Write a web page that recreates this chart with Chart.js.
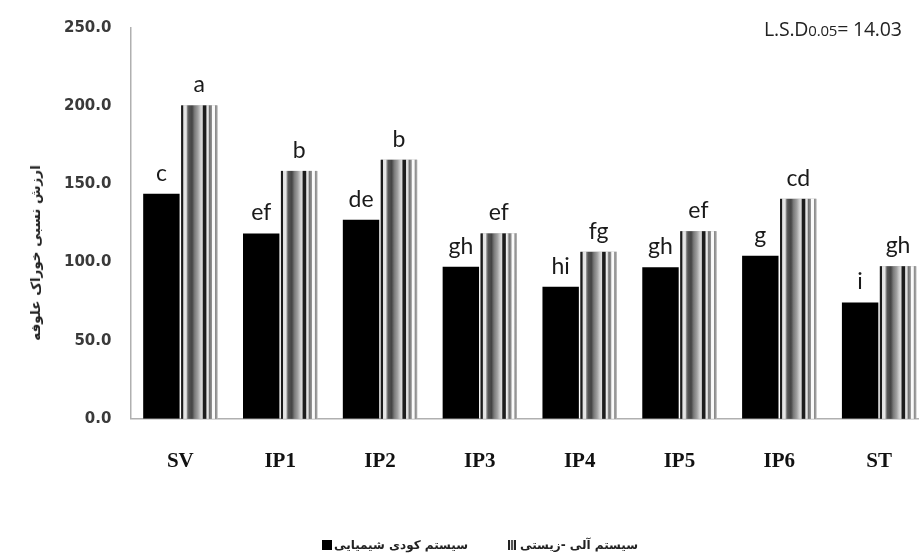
<!DOCTYPE html>
<html>
<head>
<meta charset="utf-8">
<script src="https://cdn.jsdelivr.net/npm/chart.js@4/dist/chart.umd.min.js"></script>
<style>
  html, body { margin: 0; padding: 0; background: #fff; overflow: hidden; }
  #wrap { position: relative; width: 930px; height: 555px; }
  #ytitle {
    position: absolute; left: 35px; top: 253px;
    transform: translate(-50%, -50%) rotate(-90deg);
    font: bold 13.5px "DejaVu Sans", sans-serif; color: #222; white-space: nowrap;
  }
  #lsd {
    position: absolute; left: 764px; top: 15px;
    font: 19.5px "Open Sans", sans-serif; color: #222; white-space: nowrap; letter-spacing: -0.2px;
  }
  #lsd .sub { font-size: 15px; }
  #legend {
    position: absolute; left: 322px; top: 538px;
    font: bold 12px "DejaVu Sans", sans-serif; color: #222; white-space: nowrap;
    display: flex; flex-direction: row; align-items: center;
  }
  .box { display: inline-block; width: 10px; height: 10px; background: #000; }
  .stripe { display: inline-block; width: 8px; height: 10px;
    background: linear-gradient(90deg, #222 0 20%, #eee 20% 40%, #555 40% 60%, #ddd 60% 75%, #222 75% 100%); }
</style>
</head>
<body>
<div id="wrap">
  <canvas id="c" width="930" height="555"></canvas>
  <div id="ytitle" dir="rtl">ارزش نسبی خوراک علوفه</div>
  <div id="lsd">L.S.D<span class="sub">0.05</span>= 14.03</div>
  <div id="legend">
    <span class="box"></span>
    <span dir="rtl" style="margin-left:2px">سیستم کودی شیمیایی</span>
    <span style="display:inline-block;width:40px"></span>
    <span class="stripe"></span>
    <span dir="rtl" style="margin-left:4px">سیستم آلی -زیستی</span>
  </div>
</div>
<script>
const categories = ["SV", "IP1", "IP2", "IP3", "IP4", "IP5", "IP6", "ST"];
const chemicalValues = [144, 118.6, 127.4, 97.2, 84.5, 97, 104.3, 74.4];
const organicValues = [200.5, 158.6, 165.7, 118.6, 106.8, 120, 140.7, 97.6];
const chemicalLetters = ["c", "ef", "de", "gh", "hi", "gh", "g", "i"];
const organicLetters = ["a", "b", "b", "ef", "fg", "ef", "cd", "gh"];
const yTicks = [0, 50, 100, 150, 200, 250];

const stripeStops = [
  [0.00, "#1a1a1a"], [0.05, "#1a1a1a"], [0.07, "#e0e0e0"], [0.14, "#e8e8e8"],
  [0.17, "#8a8a8a"], [0.21, "#555"], [0.30, "#444"], [0.37, "#7a7a7a"],
  [0.46, "#a0a0a0"], [0.53, "#cccccc"], [0.58, "#dcdcdc"], [0.61, "#1c1c1c"],
  [0.68, "#1c1c1c"], [0.71, "#efefef"], [0.75, "#d4d4d4"], [0.78, "#707070"],
  [0.84, "#909090"], [0.86, "#fafafa"], [0.92, "#fafafa"], [0.94, "#8a8a8a"],
  [0.98, "#a0a0a0"], [1.00, "#cccccc"]
];

const stripePlugin = {
  id: "stripes",
  afterDatasetDraw(chart, args) {
    if (args.index !== 1) return;
    const ctx = chart.ctx;
    const meta = args.meta;
    ctx.save();
    meta.data.forEach(bar => {
      const p = bar.getProps(["x", "y", "base", "width"], true);
      const left = p.x - p.width / 2;
      const g = ctx.createLinearGradient(left, 0, left + p.width, 0);
      stripeStops.forEach(s => g.addColorStop(s[0], s[1]));
      ctx.fillStyle = g;
      ctx.fillRect(left, p.y, p.width, p.base - p.y);
    });
    ctx.restore();
  }
};

const letterPlugin = {
  id: "letters",
  afterDatasetsDraw(chart) {
    const ctx = chart.ctx;
    ctx.save();
    ctx.font = "23px Lato, sans-serif";
    ctx.fillStyle = "#1a1a1a";
    ctx.textAlign = "center";
    ctx.textBaseline = "alphabetic";
    [chemicalLetters, organicLetters].forEach((letters, di) => {
      chart.getDatasetMeta(di).data.forEach((bar, i) => {
        const p = bar.getProps(["x", "y"], true);
        ctx.fillText(letters[i], p.x, p.y - 13);
      });
    });
    ctx.restore();
  }
};

new Chart(document.getElementById("c"), {
  type: "bar",
  data: {
    labels: categories,
    datasets: [
      { label: "سیستم کودی شیمیایی", data: chemicalValues, backgroundColor: "#000",
        barPercentage: 0.96, categoryPercentage: 0.76 },
      { label: "سیستم آلی -زیستی", data: organicValues, backgroundColor: "#999",
        barPercentage: 0.96, categoryPercentage: 0.76 }
    ]
  },
  options: {
    responsive: false,
    animation: false,
    layout: { padding: { left: 45, right: 1, top: 21, bottom: 51 } },
    plugins: { legend: { display: false }, tooltip: { enabled: false } },
    scales: {
      x: {
        grid: { display: false, drawTicks: false },
        border: { display: true, color: "#b0b0b0", width: 1.5 },
        ticks: { font: { family: "Liberation Serif", weight: "bold", size: 21 }, color: "#111", padding: 30 }
      },
      y: {
        min: 0, max: 250,
        grid: { display: false, drawTicks: false },
        border: { display: true, color: "#b0b0b0", width: 1.5 },
        afterBuildTicks(scale) { scale.ticks = yTicks.map(v => ({ value: v })); },
        ticks: {
          font: { family: "DejaVu Sans", weight: "bold", size: 15 }, color: "#3a3a3a", padding: 19,
          callback: v => Number(v).toFixed(1)
        }
      }
    }
  },
  plugins: [stripePlugin, letterPlugin]
});
</script>
</body>
</html>
